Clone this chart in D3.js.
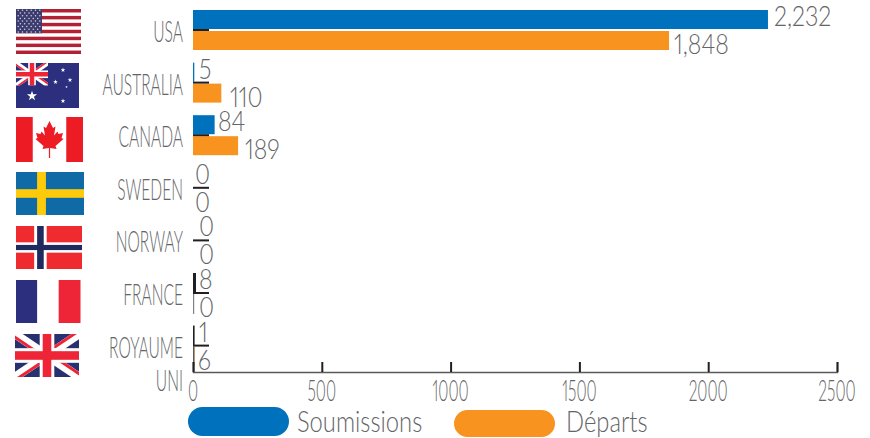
<!DOCTYPE html>
<html><head><meta charset="utf-8">
<style>html,body{margin:0;padding:0;background:#fff}svg{display:block}
text{font-family:Lato,"Open Sans",sans-serif;font-weight:300;fill:#636466;opacity:.99;font-variant-numeric:proportional-nums;font-feature-settings:"pnum"}</style>
<script src="https://cdn.jsdelivr.net/npm/d3@7"></script></head><body>
<svg id="c" width="870" height="438"></svg>
<script>
const categories=["USA","AUSTRALIA","CANADA","SWEDEN","NORWAY","FRANCE","ROYAUME UNI"];
const soumissions=[2232,5,84,0,0,8,1];
const departs=[1848,110,175,0,0,0,6];
const valueLabelsA=["2,232","5","84","0","0","8","1"];
const valueLabelsB=["1,848","110","189","0","0","0","6"];
const tickValues=[0,500,1000,1500,2000,2500];
const seriesNames=["Soumissions","Départs"];
const colors=["#0071bc","#f7931e"];
const svg=d3.select("#c");
const x=d3.scaleLinear().domain([0,2500]).range([193,837]);
const y=d3.scaleBand().domain(categories).range([3.7,371.9]).padding(0);
const mid=c=>y(c)+y.bandwidth()/2;
function txt(s,a,b,px,sx,anchor){
  return svg.append("text").attr("text-anchor",anchor||"start").attr("font-size",px)
    .attr("transform",`translate(${a},${b}) scale(${sx},1)`).text(s);
}
// flags
const R="#ee2536",W="#fff",B="#2b2f7e";
function rect(g,a,b,w,h,f){g.append("rect").attr("x",a).attr("y",b).attr("width",w).attr("height",h).attr("fill",f);}
let clipN=0;
function union(g,w,h,blue){
  const id="cl"+(clipN++);
  g.append("clipPath").attr("id",id).append("rect").attr("width",w).attr("height",h);
  const u=g.append("g").attr("clip-path",`url(#${id})`);
  rect(u,0,0,w,h,blue);
  const cx=w/2,cy=h/2,line=(a,b,c,d,st,sw)=>u.append("line").attr("x1",a).attr("y1",b).attr("x2",c).attr("y2",d).attr("stroke",st).attr("stroke-width",sw);
  const sw=h*.2,o=h*.045;
  line(0,0,w,h,W,sw);line(w,0,0,h,W,sw);
  line(-o,o,cx-o,cy+o,R,h*.07);line(w-o,-o,cx-o,cy-o,R,h*.07);
  line(w+o,h-o,cx+o,cy-o,R,h*.07);line(o,h+o,cx+o,cy+o,R,h*.07);
  rect(u,cx-h*.17,0,h*.34,h,W);rect(u,0,cy-h*.17,w,h*.34,W);
  rect(u,cx-h*.1,0,h*.2,h,R);rect(u,0,cy-h*.1,w,h*.2,R);
}
const flags={
  USA(g,w,h){
    rect(g,0,0,w,h,W);
    d3.range(7).forEach(i=>rect(g,0,i*2*h/13,w,h/13,"#b22234"));
    const cw=w*.4,ch=h*7/13;rect(g,0,0,cw,ch,"#3c3b6e");
    d3.range(9).forEach(r=>d3.range(r%2?5:6).forEach(c=>g.append("circle")
      .attr("cx",(c+(r%2?1:.5))*cw/6).attr("cy",(r+.5)*ch/9).attr("r",.75).attr("fill","#d5d5e3")));
  },
  AUSTRALIA(g,w,h){
    rect(g,0,0,w,h,B);
    union(g.append("g"),w*.508,h*.5,B);
    [[16,33,32],[47,7,7],[54,17,7],[39.5,19,7],[50.5,24,2],[47,38,7]].forEach(s=>
      g.append("path").attr("d",d3.symbol(d3.symbolStar,s[2])()).attr("transform",`translate(${s[0]},${s[1]})`).attr("fill",W));
  },
  CANADA(g,w,h){
    rect(g,0,0,w,h,"#ed1c24");rect(g,w*.25,0,w*.5,h,W);
    const half=[[0,-18.5],[3.5,-11.5],[6,-13],[4.5,-4],[8,-8],[9,-5.5],[13.5,-6.5],[12,-1.5],[14,-.5],[6,6.5],[7,9.5],[.6,8.5],[.6,18.5]];
    const pts=half.concat(half.slice().reverse().map(p=>[-p[0],p[1]]));
    g.append("path").attr("d",d3.line()(pts)+"Z").attr("transform",`translate(${w/2},${h/2})`).attr("fill","#ed1c24");
  },
  SWEDEN(g,w,h){
    rect(g,0,0,w,h,"#106aa6");
    rect(g,w*.31,0,w*.13,h,"#fecb0a");rect(g,0,h*.4,w,h*.2,"#fecb0a");
  },
  NORWAY(g,w,h){
    rect(g,0,0,w,h,"#ef2b2f");
    rect(g,w*.275,0,w*.19,h,W);rect(g,0,h*.38,w,h*.24,W);
    rect(g,w*.32,0,w*.1,h,"#1f2a5e");rect(g,0,h*.44,w,h*.12,"#1f2a5e");
  },
  FRANCE(g,w,h){
    rect(g,0,0,w/3,h,B);rect(g,w/3,0,w/3,h,W);rect(g,w*2/3,0,w/3+.5,h,R);
  },
  "ROYAUME UNI"(g,w,h){union(g,w,h,"#27316f");}
};
const flagBoxes=[[16,9,65,45],[16,63,63,45],[16,117,67,45],[16,172,68,43],[16,226,66,43],[16,280,64,43],[15,334,64,43]];
categories.forEach((c,i)=>{
  const b=flagBoxes[i];
  flags[c](svg.append("g").attr("transform",`translate(${b[0]},${b[1]})`),b[2],b[3]);
});
// bars
const barH=19;
svg.selectAll(".a").data(categories).join("rect").attr("x",x(0)).attr("y",c=>mid(c)-barH-1).attr("width",(c,i)=>x(soumissions[i])-x(0)).attr("height",barH).attr("fill",colors[0]);
svg.selectAll(".b").data(categories).join("rect").attr("x",x(0)).attr("y",c=>mid(c)+1).attr("width",(c,i)=>x(departs[i])-x(0)).attr("height",barH).attr("fill",colors[1]);
// dark stub marks at the base of the smallest bars
[["FRANCE",-20,3,20,"#231f20"],["FRANCE",1,1.2,20,"#808285"],["ROYAUME UNI",-20,1.6,20,"#231f20"],["ROYAUME UNI",1,1.4,26,"#58595b"]].forEach(s=>
  rect(svg,x(0),mid(s[0])+s[1],s[2],s[3],s[4]));
// category ticks
svg.selectAll(".t").data(categories).join("rect").attr("x",x(0)).attr("y",c=>mid(c)-1).attr("width",16).attr("height",2).attr("fill","#231f20");
// axis
const ax=svg.append("g").attr("transform","translate(0,372)").call(d3.axisTop(x).tickValues(tickValues).tickSize(10).tickFormat(""));
ax.select(".domain").attr("stroke","#58595b").attr("stroke-width",1.5);
ax.selectAll("line").attr("stroke","#231f20").attr("stroke-width",2);
tickValues.forEach(v=>txt(String(v),x(v),401,30,.52,"middle"));
// labels
const labelXA=[774,199,218,195,199,199,199],labelXB=[674,230,245,195,199,199,198];
categories.forEach((c,i)=>{
  const p=c.split(" ");
  txt(p[0],183,mid(c)+12,30,.52,"end");
  if(p[1])txt(p[1],183,mid(c)+45,30,.52,"end");
  txt(valueLabelsA[i],labelXA[i],mid(c)-4,28,.83);
  txt(valueLabelsB[i],labelXB[i],mid(c)+24,28,.83);
});
// legend
svg.append("rect").attr("x",188).attr("y",407).attr("width",101).attr("height",29).attr("rx",14.5).attr("fill",colors[0]);
svg.append("rect").attr("x",454).attr("y",410).attr("width",101).attr("height",27).attr("rx",13.5).attr("fill",colors[1]);
txt(seriesNames[0],297,432,29,.82);
txt(seriesNames[1],566,432,29,.82);
</script></body></html>
